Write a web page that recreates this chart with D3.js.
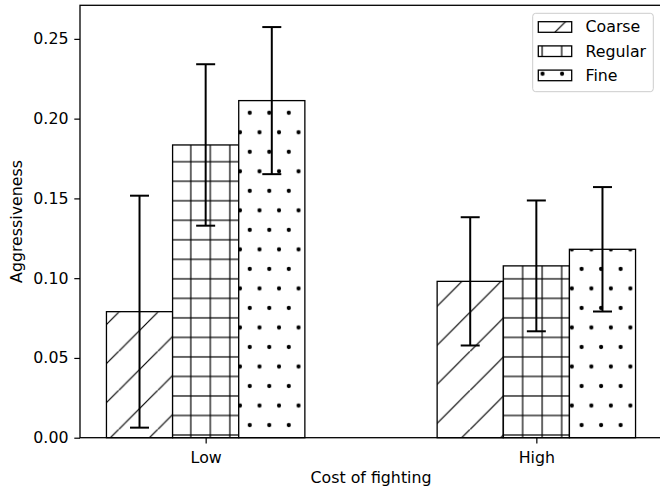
<!DOCTYPE html>
<html>
<head>
<meta charset="utf-8">
<script src="https://cdn.jsdelivr.net/npm/d3@7"></script>
<style>
  html, body { margin: 0; padding: 0; background: #fff; }
  svg { display: block; }
  text { font-family: "DejaVu Sans", sans-serif; fill: #000; }
</style>
</head>
<body>
<svg id="chart" width="660" height="487"></svg>
<script>
// Grouped bar chart: aggressiveness by cost of fighting and resolution
const categories = ["Low", "High"];
const seriesNames = ["Coarse", "Regular", "Fine"];
const coarseMean = [0.079, 0.098];
const regularMean = [0.1835, 0.1077];
const fineMean = [0.2113, 0.1181];
const coarseErr = [0.0727, 0.0402];
const regularErr = [0.0506, 0.041];
const fineErr = [0.0461, 0.039];
const yTicks = [0.00, 0.05, 0.10, 0.15, 0.20, 0.25];
const xLabel = "Cost of fighting";
const yLabel = "Aggressiveness";

const means = [coarseMean, regularMean, fineMean];
const errs = [coarseErr, regularErr, fineErr];
const hatchIds = ["hatch-diag", "hatch-grid", "hatch-dots"];

const FONT = 15.8;
const svg = d3.select("#chart");

// plot area
const plotLeft = 80, plotRight = 662, plotTop = 5.3, plotBottom = 437.7;
const barWidth = 0.2;

const yMax = d3.max(means.flatMap((m, s) => m.map((v, i) => v + errs[s][i]))) * 1.053;
const x = d3.scaleLinear().domain([-0.38, 1.38]).range([plotLeft, plotRight]);
const y = d3.scaleLinear().domain([0, yMax]).range([plotBottom, plotTop]);

// hatch patterns in page coordinates
const defs = svg.append("defs");
const P = 19.52;
const hw = 1.2;

// "/" diagonal lines, vertical spacing 2P
const diag = defs.append("pattern").attr("id", "hatch-diag")
  .attr("patternUnits", "userSpaceOnUse")
  .attr("x", 509.1 % (2 * P)).attr("y", 0)
  .attr("width", 2 * P).attr("height", 2 * P);
diag.append("rect").attr("width", 2 * P).attr("height", 2 * P).attr("fill", "#fff");
[[-2 * P, 0, 0, -2 * P], [0, 2 * P, 2 * P, 0], [2 * P, 4 * P, 4 * P, 2 * P]].forEach(([x1, y1, x2, y2]) => {
  diag.append("line").attr("x1", x1).attr("y1", y1).attr("x2", x2).attr("y2", y2)
    .attr("stroke", "#000").attr("stroke-width", hw);
});

// "+" grid
const grid = defs.append("pattern").attr("id", "hatch-grid")
  .attr("patternUnits", "userSpaceOnUse")
  .attr("x", 190.8 % P).attr("y", 435 % P)
  .attr("width", P).attr("height", P);
grid.append("rect").attr("width", P).attr("height", P).attr("fill", "#fff");
grid.append("line").attr("x1", 0).attr("x2", 0).attr("y1", -1).attr("y2", P + 1)
  .attr("stroke", "#000").attr("stroke-width", hw);
grid.append("line").attr("x1", P).attr("x2", P).attr("y1", -1).attr("y2", P + 1)
  .attr("stroke", "#000").attr("stroke-width", hw);
grid.append("line").attr("y1", 0).attr("y2", 0).attr("x1", -1).attr("x2", P + 1)
  .attr("stroke", "#000").attr("stroke-width", hw);
grid.append("line").attr("y1", P).attr("y2", P).attr("x1", -1).attr("x2", P + 1)
  .attr("stroke", "#000").attr("stroke-width", hw);

// "." staggered dots
const dots = defs.append("pattern").attr("id", "hatch-dots")
  .attr("patternUnits", "userSpaceOnUse")
  .attr("x", 240 % P).attr("y", 132.3 % (2 * P))
  .attr("width", P).attr("height", 2 * P);
dots.append("rect").attr("width", P).attr("height", 2 * P).attr("fill", "#fff");
[[0, 0], [P, 0], [0, 2 * P], [P, 2 * P], [P / 2, -P], [P / 2, P]].forEach(([cx, cy]) => {
  dots.append("circle").attr("cx", cx).attr("cy", cy).attr("r", 2.1).attr("fill", "#000");
});

// bars
seriesNames.forEach((name, s) => {
  svg.append("g").selectAll("rect")
    .data(categories.map((c, i) => ({ i, v: means[s][i] })))
    .join("rect")
    .attr("x", d => x(d.i + (s - 1) * barWidth - barWidth / 2))
    .attr("width", d => x(barWidth) - x(0))
    .attr("y", d => y(d.v))
    .attr("height", d => y(0) - y(d.v))
    .attr("fill", `url(#${hatchIds[s]})`)
    .attr("stroke", "#000")
    .attr("stroke-width", 1.3);
});

// error bars
const cap = 9.5;
seriesNames.forEach((name, s) => {
  const g = svg.append("g").attr("stroke", "#000").attr("stroke-width", 2);
  categories.forEach((c, i) => {
    const cx = x(i + (s - 1) * barWidth);
    const lo = y(means[s][i] - errs[s][i]);
    const hi = y(means[s][i] + errs[s][i]);
    g.append("line").attr("x1", cx).attr("x2", cx).attr("y1", lo).attr("y2", hi);
    g.append("line").attr("x1", cx - cap).attr("x2", cx + cap).attr("y1", lo).attr("y2", lo);
    g.append("line").attr("x1", cx - cap).attr("x2", cx + cap).attr("y1", hi).attr("y2", hi);
  });
});

// frame
svg.append("rect").attr("x", plotLeft).attr("y", plotTop)
  .attr("width", plotRight - plotLeft).attr("height", plotBottom - plotTop)
  .attr("fill", "none").attr("stroke", "#000").attr("stroke-width", 1.3);

// y axis
const yAxis = svg.append("g").attr("transform", `translate(${plotLeft},0)`)
  .call(d3.axisLeft(y).tickValues(yTicks).tickFormat(d3.format(".2f")).tickSize(5.7).tickPadding(5.8));
yAxis.select(".domain").remove();
yAxis.selectAll(".tick line").attr("stroke", "#000").attr("stroke-width", 1.2);
yAxis.selectAll(".tick text").attr("font-size", FONT).attr("font-family", "DejaVu Sans").attr("fill", "#000");

// x axis
const xAxis = svg.append("g").attr("transform", `translate(0,${plotBottom})`)
  .call(d3.axisBottom(x).tickValues(categories.map((c, i) => i))
    .tickFormat(i => categories[i]).tickSize(5.7).tickPadding(8));
xAxis.select(".domain").remove();
xAxis.selectAll(".tick line").attr("stroke", "#000").attr("stroke-width", 1.2);
xAxis.selectAll(".tick text").attr("font-size", FONT).attr("font-family", "DejaVu Sans").attr("fill", "#000");

// axis titles
svg.append("text").attr("x", (plotLeft + plotRight) / 2).attr("y", 482.5)
  .attr("text-anchor", "middle").attr("font-size", FONT).text(xLabel);
svg.append("text").attr("transform", `translate(22,${(plotTop + plotBottom) / 2}) rotate(-90)`)
  .attr("text-anchor", "middle").attr("font-size", FONT).text(yLabel);

// legend
const legend = svg.append("g");
legend.append("rect").attr("x", 532.7).attr("y", 13.3).attr("width", 120.6).attr("height", 78.4)
  .attr("rx", 3).attr("fill", "#fff").attr("fill-opacity", 0.8)
  .attr("stroke", "#ccc").attr("stroke-width", 1);
seriesNames.forEach((name, s) => {
  const yy = 21.7 + s * 24.2;
  legend.append("rect").attr("x", 538.3).attr("y", yy).attr("width", 33.4).attr("height", 10.6)
    .attr("fill", `url(#${hatchIds[s]})`).attr("stroke", "#000").attr("stroke-width", 1.3);
  legend.append("text").attr("x", 585.5).attr("y", yy + 10.6)
    .attr("font-size", FONT).text(name);
});
</script>
</body>
</html>
